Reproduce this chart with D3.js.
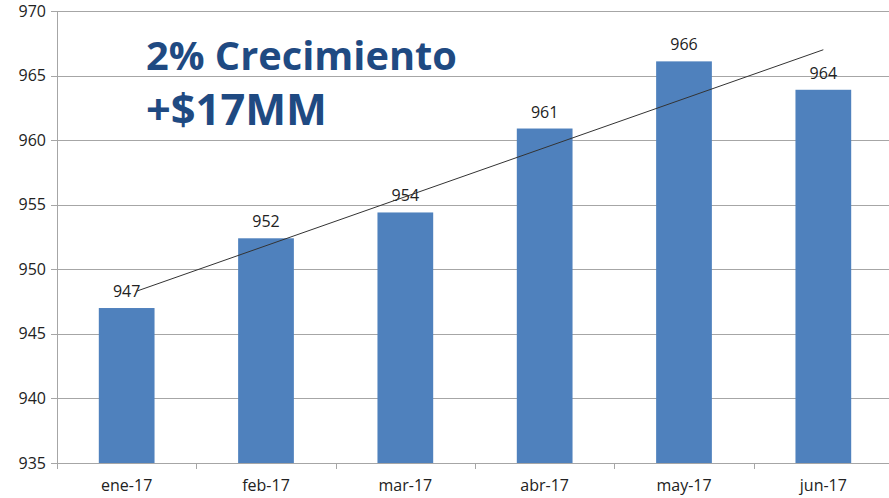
<!DOCTYPE html>
<html>
<head>
<meta charset="utf-8">
<script src="https://cdn.jsdelivr.net/npm/d3@7"></script>
<style>
  html, body { margin: 0; padding: 0; background: #fff; }
  svg { display: block; }
  text { font-family: "Open Sans", "Liberation Sans", sans-serif; }
</style>
</head>
<body>
<svg id="chart" width="889" height="498"></svg>
<script>
// ---- data ----
const categories = ["ene-17", "feb-17", "mar-17", "abr-17", "may-17", "jun-17"];
const values = [947.0, 952.4, 954.4, 960.9, 966.1, 963.9];
const valueLabels = ["947", "952", "954", "961", "966", "964"];
const yTicks = [935, 940, 945, 950, 955, 960, 965, 970];
const trendIndex = [0.07, 5.0];
const trendValue = [948.3, 967.0];
const titleLines = ["2% Crecimiento", "+$17MM"];

// ---- layout ----
const W = 889, H = 498;
const margin = { left: 57, top: 11, bottom: 35 };
const plotRight = 893;
const svg = d3.select("#chart");

const x = d3.scaleBand().domain(categories).range([margin.left, plotRight]).paddingInner(0.6).paddingOuter(0.3);
const xi = d3.scaleLinear().domain([0, categories.length - 1])
  .range([x(categories[0]) + x.bandwidth() / 2, x(categories[categories.length - 1]) + x.bandwidth() / 2]);
const y = d3.scaleLinear().domain([935, 970]).range([H - margin.bottom, margin.top]);

const gridColor = "#a6a6a6";

// gridlines
svg.append("g").selectAll("line").data(yTicks).join("line")
  .attr("x1", margin.left - 6).attr("x2", W)
  .attr("y1", d => Math.round(y(d)) + 0.5).attr("y2", d => Math.round(y(d)) + 0.5)
  .attr("stroke", gridColor).attr("stroke-width", 1);

// y axis labels
const yAxis = d3.axisLeft(y).tickValues(yTicks).tickSize(0).tickPadding(11);
const yg = svg.append("g").attr("transform", `translate(${margin.left},0)`).call(yAxis);
yg.select(".domain").remove();
yg.selectAll("text").attr("font-size", 16).attr("fill", "#222").style("font-family", "'Open Sans', sans-serif");

// y axis line
svg.append("line")
  .attr("x1", margin.left + 0.5).attr("x2", margin.left + 0.5)
  .attr("y1", y(970)).attr("y2", y(935) + 6)
  .attr("stroke", gridColor);

// x axis tick marks (boundaries between categories)
const step = x.step();
const boundaries = d3.range(categories.length + 1).map(i => margin.left + i * step);
svg.append("g").selectAll("line").data(boundaries).join("line")
  .attr("x1", d => Math.round(d) + 0.5).attr("x2", d => Math.round(d) + 0.5)
  .attr("y1", y(935)).attr("y2", y(935) + 6)
  .attr("stroke", gridColor);

// x labels
const xAxis = d3.axisBottom(x).tickSize(0).tickPadding(17);
const xg = svg.append("g").attr("transform", `translate(0,${y(935)})`).call(xAxis);
xg.select(".domain").remove();
xg.selectAll("text").attr("font-size", 16).attr("fill", "#222").style("font-family", "'Open Sans', sans-serif");

// bars
svg.append("g").selectAll("rect").data(values).join("rect")
  .attr("x", (d, i) => x(categories[i]))
  .attr("width", x.bandwidth())
  .attr("y", d => y(d))
  .attr("height", d => y(935) - y(d))
  .attr("fill", "#4f81bd");

// value labels
svg.append("g").selectAll("text").data(values).join("text")
  .attr("x", (d, i) => x(categories[i]) + x.bandwidth() / 2)
  .attr("y", d => y(d) - 11)
  .attr("text-anchor", "middle")
  .attr("font-size", 16).attr("fill", "#222")
  .text((d, i) => valueLabels[i]);

// trend line
svg.append("line")
  .attr("x1", xi(trendIndex[0])).attr("y1", y(trendValue[0]))
  .attr("x2", xi(trendIndex[1])).attr("y2", y(trendValue[1]))
  .attr("stroke", "#333").attr("stroke-width", 1);

// title
const titleColor = "#1f4a82";
const t1 = svg.append("text").attr("x", 146).attr("y", 70)
  .attr("font-size", 40).attr("font-weight", 700).attr("fill", titleColor)
  .text(titleLines[0]);
const t2 = svg.append("text").attr("x", 146).attr("y", 125)
  .attr("font-size", 40).attr("font-weight", 700).attr("fill", titleColor)
  .text(titleLines[1]);
// fit widths to reference
const fit = (t, w) => { const L = t.node().getComputedTextLength(); t.attr("font-size", 40 * w / L); };
fit(t1, 311);
fit(t2, 181);
</script>
</body>
</html>
